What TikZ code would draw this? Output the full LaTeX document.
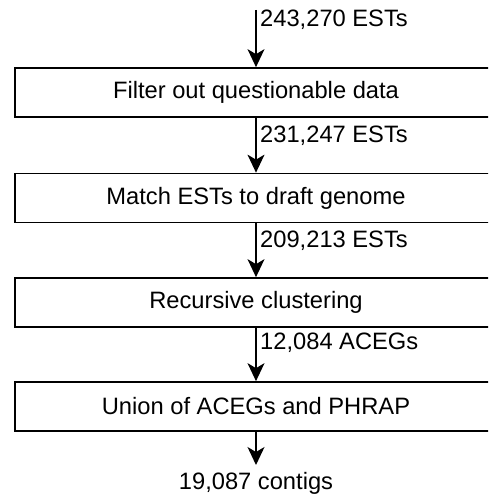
\documentclass[tikz,border=0pt]{standalone}
\usepackage{fontspec}
\setmainfont{Liberation Sans}
\usetikzlibrary{arrows.meta}
\begin{document}
\begin{tikzpicture}[x=1pt,y=-1pt,
  stepbox/.style={draw, line width=1.7pt, minimum width=482pt, minimum height=49pt,
    inner sep=0pt, font=\fontsize{23.7}{28}\selectfont},
  flow/.style={line width=1.4pt, -{Stealth[length=18pt,width=17pt,inset=5pt]}},
  count/.style={anchor=west, inner sep=0pt, font=\fontsize{23.7}{28}\selectfont},
  result/.style={inner sep=0pt, font=\fontsize{23.7}{28}\selectfont}]
  \useasboundingbox (0,0) rectangle (488,495);
  \clip (0,0) rectangle (488,495);

  % processing stages
  \node[stepbox] (filter)  at (256,92.5)  {Filter out questionable data};
  \node[stepbox] (match)   at (256,198)   {Match ESTs to draft genome};
  \node[stepbox] (cluster) at (256,302.5) {Recursive clustering};
  \node[stepbox] (union)   at (256,406.5) {Union of ACEGs and PHRAP};

  % input and output
  \coordinate (input) at (256,10);
  \coordinate (output) at (256,465);
  \node[result] (contigs) at (256,483) {19,087 contigs};

  % connectors between stages
  \draw[flow] (input) -- (filter.north);
  \draw[flow] (filter.south) -- (match.north);
  \draw[flow] (match.south) -- (cluster.north);
  \draw[flow] (cluster.south) -- (union.north);
  \draw[flow] (union.south) -- (output);

  % counts passed along each connector
  \node[count] (c1) at (260,20)  {243,270 ESTs};
  \node[count] (c2) at (260,136) {231,247 ESTs};
  \node[count] (c3) at (260,241) {209,213 ESTs};
  \node[count] (c4) at (260,343) {12,084 ACEGs};
\end{tikzpicture}
\end{document}
